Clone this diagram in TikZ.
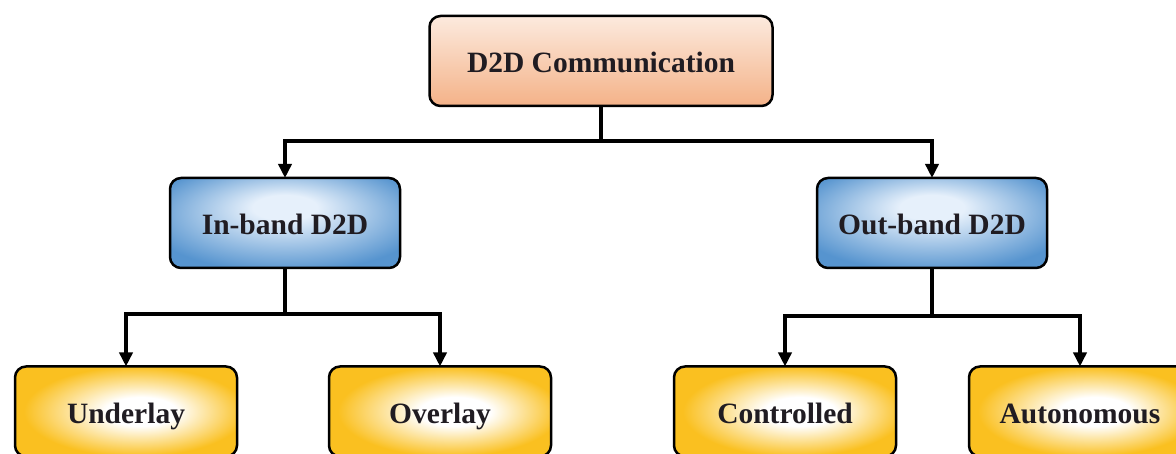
\documentclass[tikz,border=0pt]{standalone}
\usepackage{fontspec}
\setmainfont{Liberation Serif}
\usetikzlibrary{calc,arrows.meta}

\definecolor{peachtop}{RGB}{252,234,222}
\definecolor{peachbot}{RGB}{244,178,136}
\definecolor{bandlight}{RGB}{230,240,251}
\definecolor{banddark}{RGB}{86,148,207}
\definecolor{leafgold}{RGB}{250,192,32}
\definecolor{inktext}{RGB}{32,28,34}

\pgfdeclareradialshading{bandshade}{\pgfpoint{0bp}{10bp}}{color(0bp)=(bandlight); color(7bp)=(bandlight); color(31bp)=(banddark); color(50bp)=(banddark)}
\pgfdeclareradialshading{leafshade}{\pgfpoint{4bp}{0bp}}{color(0bp)=(white); color(8bp)=(white); color(25bp)=(leafgold); color(50bp)=(leafgold)}

\begin{document}
\begin{tikzpicture}[x=1pt, y=1pt, inner sep=0pt, outer sep=0pt,
    box/.style={draw=black, line width=2.5pt, rounded corners=11pt, minimum height=90pt,
        text height=24pt, text depth=0pt,
        text=inktext, font=\fontsize{29.5}{33}\selectfont\bfseries, align=center},
    rootbox/.style={box, top color=peachtop, bottom color=peachbot, minimum width=343pt},
    bandbox/.style={box, shade, shading=bandshade, minimum width=230pt},
    leafbox/.style={box, shade, shading=leafshade, minimum width=222pt},
    link/.style={line width=4pt},
    arrow/.style={link, -{Triangle[length=14pt,width=13pt]}}]
    \useasboundingbox (0,0) rectangle (1176,454);
    \clip (0,0) rectangle (1176,454);

    % root
    \node[rootbox] (d2d) at (601,393) {D2D Communication};

    % bands
    \node[bandbox] (inband) at (285,231) {In-band D2D};
    \node[bandbox] (outband) at (932,231) {Out-band D2D};

    % leaves
    \node[leafbox] (underlay) at (126,42.5) {Underlay};
    \node[leafbox] (overlay) at (440,42.5) {Overlay};
    \node[leafbox] (controlled) at (785,42.5) {Controlled};
    \node[leafbox] (autonomous) at (1080,42.5) {Autonomous};

    % root -> bands
    \coordinate (d2d_split) at ($(d2d.south) + (0,-35)$);
    \draw[link] (d2d.south) -- (d2d_split);
    \draw[arrow] (d2d_split) -| (inband.north);
    \draw[arrow] (d2d_split) -| (outband.north);

    % in-band -> leaves
    \coordinate (inband_split) at ($(inband.south) + (0,-46)$);
    \draw[link] (inband.south) -- (inband_split);
    \draw[arrow] (inband_split) -| (underlay.north);
    \draw[arrow] (inband_split) -| (overlay.north);

    % out-band -> leaves
    \coordinate (outband_split) at ($(outband.south) + (0,-48)$);
    \draw[link] (outband.south) -- (outband_split);
    \draw[arrow] (outband_split) -| (controlled.north);
    \draw[arrow] (outband_split) -| (autonomous.north);

\end{tikzpicture}
\end{document}
